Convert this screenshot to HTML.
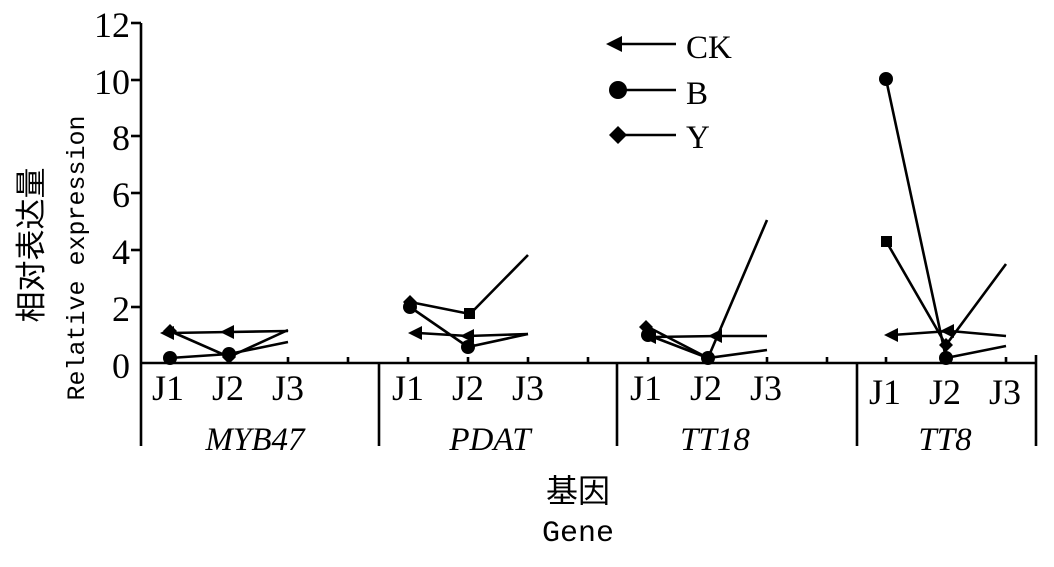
<!DOCTYPE html>
<html><head><meta charset="utf-8"><style>body{margin:0;background:#fff}svg{display:block}</style></head><body>
<svg width="1054" height="567" viewBox="0 0 1054 567" xmlns="http://www.w3.org/2000/svg">
<g stroke="#000" stroke-width="2.6" fill="none">
<line x1="141" y1="23" x2="141" y2="446"/>
<line x1="141" y1="363" x2="1036" y2="363"/>
<line x1="379" y1="363" x2="379" y2="446"/>
<line x1="617" y1="363" x2="617" y2="446"/>
<line x1="857" y1="363" x2="857" y2="446"/>
<line x1="1036" y1="355" x2="1036" y2="446"/>
<line x1="131" y1="23" x2="141" y2="23"/><line x1="131" y1="80" x2="141" y2="80"/><line x1="131" y1="136" x2="141" y2="136"/><line x1="131" y1="193" x2="141" y2="193"/><line x1="131" y1="250" x2="141" y2="250"/><line x1="131" y1="307" x2="141" y2="307"/>
<path d="M168 363v-6M228 363v-6M288 363v-6M348 363v-6M408 363v-6M468 363v-6M528 363v-6M588 363v-6M648 363v-6M708 363v-6M767 363v-6M827 363v-6M886 363v-6M946 363v-6M1006 363v-6"/>
<polyline points="170,333 229,332 288,331"/>
<polyline points="170,358 229,354 288,342"/>
<polyline points="170,331 229,357 288,330"/>
<polyline points="418,333 468,336 528,334"/>
<polyline points="410,307 468,347 528,334"/>
<polyline points="410,302 470,314 528,255"/>
<polyline points="652,337 718,336 767,336"/>
<polyline points="648,335 708,358 767,350"/>
<polyline points="648,327 708,358 767,220"/>
<polyline points="892,335 950,331 1006,336"/>
<polyline points="886,79 946,358 1006,346"/>
<polyline points="886,241 946,345 1006,264"/>
<line x1="618" y1="44" x2="676" y2="44"/>
<line x1="618" y1="90" x2="676" y2="90"/>
<line x1="618" y1="135" x2="676" y2="135"/>
</g>
<g fill="#000">
<path d="M606 44l16-8v16z"/>
<path d="M160 333l14-7v14z M220 332l14-7v14z M408 333l14-7v14z M460 336l14-7v14z M642 337l14-7v14z M708 336l14-7v14z M884 335l14-7v14z M940 331l14-7v14z"/>
<circle cx="618" cy="90" r="9"/>
<circle cx="170" cy="358" r="7"/><circle cx="229" cy="354" r="7"/>
<circle cx="410" cy="307" r="7"/><circle cx="468" cy="347" r="7"/>
<circle cx="648" cy="335" r="7"/><circle cx="708" cy="358" r="7"/>
<circle cx="886" cy="79" r="7"/><circle cx="946" cy="358" r="7"/>
<path d="M618 126l9 9-9 9-9-9z"/>
<path d="M170 324l7 7-7 7-7-7z M229 350l7 7-7 7-7-7z M410 295l7 7-7 7-7-7z M646 320l7 7-7 7-7-7z M708 351l7 7-7 7-7-7z M946 338l7 7-7 7-7-7z"/>
<rect x="464" y="308" width="11" height="11"/>
<rect x="881" y="236" width="11" height="11"/>
</g>
<g font-family="Liberation Serif, serif" font-size="36" text-anchor="end">
<text x="130" y="37">12</text><text x="130" y="94">10</text><text x="130" y="150">8</text><text x="130" y="207">6</text><text x="130" y="264">4</text><text x="130" y="321">2</text><text x="130" y="378">0</text>
</g>
<g font-family="Liberation Serif, serif" font-size="36" text-anchor="middle">
<text x="168" y="400">J1</text><text x="228" y="400">J2</text><text x="288" y="400">J3</text>
<text x="408" y="400">J1</text><text x="468" y="400">J2</text><text x="528" y="400">J3</text>
<text x="646" y="400">J1</text><text x="706" y="400">J2</text><text x="766" y="400">J3</text>
<text x="885" y="404">J1</text><text x="945" y="404">J2</text><text x="1005" y="404">J3</text>
</g>
<g font-family="Liberation Serif, serif" font-size="33" font-style="italic" text-anchor="middle">
<text x="255" y="450">MYB47</text><text x="490" y="450">PDAT</text><text x="715" y="450">TT18</text><text x="945" y="450">TT8</text>
</g>
<g font-family="Liberation Serif, serif" font-size="33">
<text x="686" y="58">CK</text><text x="686" y="104">B</text><text x="686" y="148">Y</text>
</g>
<text x="578" y="502" font-family="Liberation Sans, Noto Sans CJK SC, sans-serif" font-size="32" text-anchor="middle">基因</text>
<text x="578" y="541" font-family="Liberation Mono, monospace" font-size="30" text-anchor="middle">Gene</text>
<text transform="translate(42,245) rotate(-90)" font-family="Liberation Sans, Noto Sans CJK SC, sans-serif" font-size="31" text-anchor="middle">相对表达量</text>
<text transform="translate(84,258) rotate(-90)" font-family="Liberation Mono, monospace" font-size="25" text-anchor="middle">Relative expression</text>
</svg>
</body></html>
